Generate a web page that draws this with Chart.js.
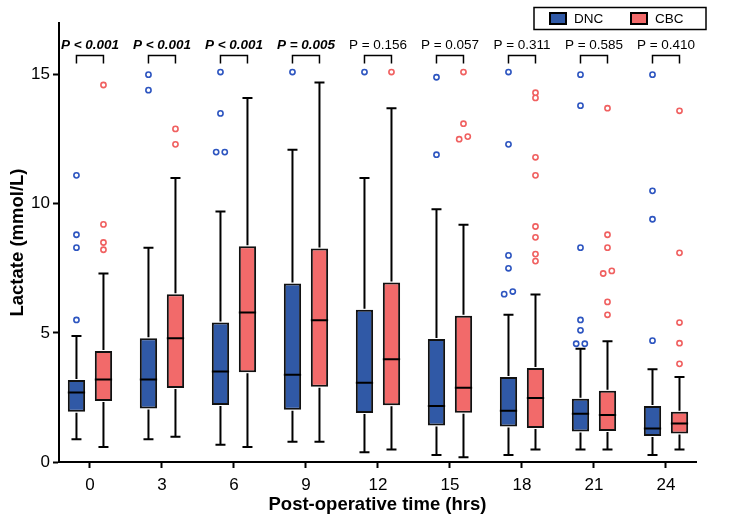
<!DOCTYPE html>
<html>
<head>
<meta charset="utf-8">
<style>
  html, body { margin: 0; padding: 0; background: #fff; }
  #wrap { width: 744px; height: 524px; position: relative; }
</style>
</head>
<body>
<div id="wrap"><canvas id="lactateChart"></canvas></div>

<script src="https://cdn.jsdelivr.net/npm/chart.js"></script>
<script>
  // post-operative time points (hrs)
  const times = [0, 3, 6, 9, 12, 15, 18, 21, 24];

  // DNC group: box plot summary (mmol/L)
  const dncMin = [0.88, 0.88, 0.67, 0.78, 0.38, 0.27, 0.27, 0.48, 0.27];
  const dncQ1  = [1.95, 2.07, 2.21, 2.02, 1.90, 1.41, 1.37, 1.18, 1.01];
  const dncMed = [2.69, 3.19, 3.50, 3.38, 3.07, 2.17, 1.98, 1.87, 1.30];
  const dncQ3  = [3.18, 4.79, 5.40, 6.91, 5.90, 4.76, 3.29, 2.45, 2.17];
  const dncMax = [4.88, 8.30, 9.70, 12.09, 11.0, 9.79, 5.70, 4.39, 3.59];
  const dncOutliers = [
    [5.5, 8.3, 8.8, 11.1],
    [14.4, 15.0],
    [12.0, 12.0, 13.5, 15.1],
    [15.1],
    [15.1],
    [11.9, 14.9],
    [6.5, 6.6, 7.5, 8.0, 12.3, 15.1],
    [4.58, 4.58, 5.1, 5.5, 8.3, 13.8, 15.0],
    [4.7, 9.4, 10.5, 15.0]
  ];

  // CBC group
  const cbcMin = [0.58, 0.98, 0.58, 0.78, 0.48, 0.18, 0.48, 0.48, 0.48];
  const cbcQ1  = [2.36, 2.87, 3.48, 2.91, 2.20, 1.91, 1.32, 1.20, 1.10];
  const cbcMed = [3.19, 4.79, 5.79, 5.49, 3.98, 2.88, 2.48, 1.82, 1.49];
  const cbcQ3  = [4.30, 6.50, 8.35, 8.27, 6.95, 5.66, 3.64, 2.76, 1.95];
  const cbcMax = [7.30, 11.0, 14.1, 14.7, 13.7, 9.19, 6.49, 4.68, 3.29];
  const cbcOutliers = [
    [8.22, 8.5, 9.2, 14.6],
    [12.3, 12.9],
    [],
    [],
    [15.1],
    [12.5, 12.6, 13.1, 15.1],
    [7.78, 8.05, 8.7, 9.12, 11.1, 11.8, 14.1, 14.3],
    [5.7, 6.2, 7.3, 7.4, 8.3, 8.8, 13.7],
    [3.8, 4.6, 5.4, 8.1, 13.6]
  ];

  const pLabels = ['P < 0.001', 'P < 0.001', 'P < 0.001', 'P = 0.005', 'P = 0.156',
                   'P = 0.057', 'P = 0.311', 'P = 0.585', 'P = 0.410'];
  const pSignificant = [true, true, true, true, false, false, false, false, false];

  const BLUE = '#3059a6', RED = '#f26a6a';
  const BLUE_PT = '#2d55c0', RED_PT = '#f06060';
  const FONT = '"Liberation Sans", Arial, Helvetica, sans-serif';

  const outlierSets = [dncOutliers, cbcOutliers];
  const whiskerSets = [[dncMin, dncMax, dncMed], [cbcMin, cbcMax, cbcMed]];
  const ptColors = [BLUE_PT, RED_PT];

  // whiskers, medians and outliers on top of the floating bars
  const boxExtras = {
    id: 'boxExtras',
    afterDatasetsDraw(chart) {
      const ctx = chart.ctx;
      const y = chart.scales.y;
      ctx.save();
      [0, 1].forEach(d => {
        const meta = chart.getDatasetMeta(d);
        const [mins, maxs, meds] = whiskerSets[d];
        meta.data.forEach((bar, i) => {
          const x = bar.x, hw = bar.width / 2;
          const top = Math.min(bar.y, bar.base), bot = Math.max(bar.y, bar.base);
          ctx.strokeStyle = '#000';
          ctx.lineWidth = 2;
          ctx.lineCap = 'butt';
          ctx.beginPath();
          ctx.moveTo(x, top - 1); ctx.lineTo(x, y.getPixelForValue(maxs[i]));
          ctx.moveTo(x, bot + 1); ctx.lineTo(x, y.getPixelForValue(mins[i]));
          ctx.moveTo(x - 5, y.getPixelForValue(maxs[i])); ctx.lineTo(x + 5, y.getPixelForValue(maxs[i]));
          ctx.moveTo(x - 5, y.getPixelForValue(mins[i])); ctx.lineTo(x + 5, y.getPixelForValue(mins[i]));
          ctx.moveTo(x - hw, y.getPixelForValue(meds[i])); ctx.lineTo(x + hw, y.getPixelForValue(meds[i]));
          ctx.stroke();

          // outliers; near-equal values are set side by side
          const vals = outlierSets[d][i];
          ctx.strokeStyle = ptColors[d];
          ctx.lineWidth = 1.6;
          ctx.fillStyle = '#fff';
          vals.forEach((v, k) => {
            let dx = 0;
            const prev = vals[k - 1], next = vals[k + 1];
            if (next !== undefined && next - v < 0.2) dx = -4.3;
            else if (prev !== undefined && v - prev < 0.2) dx = 4.3;
            ctx.beginPath();
            ctx.arc(x + dx, y.getPixelForValue(v), 2.6, 0, Math.PI * 2);
            ctx.fill();
            ctx.stroke();
          });
        });
      });
      ctx.restore();
    },
    afterDraw(chart) {
      const ctx = chart.ctx;
      const y = chart.scales.y;
      const m0 = chart.getDatasetMeta(0), m1 = chart.getDatasetMeta(1);
      ctx.save();
      // p-value brackets
      times.forEach((t, i) => {
        const x0 = m0.data[i].x, x1 = m1.data[i].x;
        const yb = y.getPixelForValue(15.74), yl = y.getPixelForValue(15.43);
        ctx.strokeStyle = '#000';
        ctx.lineWidth = 1.5;
        ctx.beginPath();
        ctx.moveTo(x0, yl); ctx.lineTo(x0, yb); ctx.lineTo(x1, yb); ctx.lineTo(x1, yl);
        ctx.stroke();
        ctx.fillStyle = '#000';
        ctx.font = (pSignificant[i] ? 'italic bold ' : '') + '13.5px ' + FONT;
        ctx.textAlign = 'center';
        ctx.textBaseline = 'middle';
        ctx.fillText(pLabels[i], chart.scales.x.getPixelForValue(t), y.getPixelForValue(16.15));
      });

      // legend box
      ctx.lineWidth = 1.5;
      ctx.strokeStyle = '#000';
      ctx.strokeRect(534, 7.5, 172, 22);
      ctx.lineWidth = 2;
      ctx.fillStyle = BLUE;
      ctx.fillRect(550, 13, 16, 11);
      ctx.strokeRect(550, 13, 16, 11);
      ctx.fillStyle = RED;
      ctx.fillRect(631, 13, 16, 11);
      ctx.strokeRect(631, 13, 16, 11);
      ctx.fillStyle = '#000';
      ctx.font = '13.5px ' + FONT;
      ctx.textAlign = 'left';
      ctx.textBaseline = 'middle';
      ctx.fillText('DNC', 574, 19);
      ctx.fillText('CBC', 655, 19);
      ctx.restore();
    }
  };

  const ctx = document.getElementById('lactateChart').getContext('2d');

  new Chart(ctx, {
    type: 'bar',
    data: {
      datasets: [{
        label: 'DNC',
        data: times.map((t, i) => ({ x: t, y: [dncQ1[i], dncQ3[i]] })),
        backgroundColor: BLUE,
        borderColor: '#111',
        borderWidth: 2,
        borderSkipped: false
      }, {
        label: 'CBC',
        data: times.map((t, i) => ({ x: t, y: [cbcQ1[i], cbcQ3[i]] })),
        backgroundColor: RED,
        borderColor: '#111',
        borderWidth: 2,
        borderSkipped: false
      }]
    },
    options: {
      responsive: true,
      maintainAspectRatio: false,
      animation: false,
      categoryPercentage: 0.75,
      barPercentage: 0.64,
      layout: { padding: { left: 0, right: 48, top: 23, bottom: 0 } },
      plugins: {
        legend: { display: false },
        tooltip: { enabled: false }
      },
      scales: {
        x: {
          type: 'linear',
          min: -1.29,
          max: 25.25,
          offset: false,
          afterBuildTicks: s => { s.ticks = times.map(v => ({ value: v })); },
          afterFit: s => { s.height = 62; },
          grid: { display: true, drawOnChartArea: false, offset: false, tickLength: 6, tickWidth: 2, tickColor: '#000' },
          border: { display: true, color: '#000', width: 2 },
          ticks: { color: '#000', font: { family: FONT, size: 17 }, padding: 7, maxRotation: 0 },
          title: {
            display: true,
            text: 'Post-operative time (hrs)',
            color: '#000',
            font: { family: FONT, size: 18.5, weight: 'bold' },
            padding: { top: 0, bottom: 8 }
          }
        },
        y: {
          min: 0,
          max: 17,
          afterBuildTicks: s => { s.ticks = [0, 5, 10, 15].map(v => ({ value: v })); },
          afterFit: s => { s.width = 59; },
          grid: { display: true, drawOnChartArea: false, tickLength: 6, tickWidth: 2, tickColor: '#000' },
          border: { display: true, color: '#000', width: 2 },
          ticks: { color: '#000', font: { family: FONT, size: 17 }, padding: 3 },
          title: {
            display: true,
            text: 'Lactate (mmol/L)',
            color: '#000',
            font: { family: FONT, size: 18.5, weight: 'bold' },
            padding: { top: 7, bottom: 0 }
          }
        }
      }
    },
    plugins: [boxExtras]
  });
</script>
</body>
</html>
